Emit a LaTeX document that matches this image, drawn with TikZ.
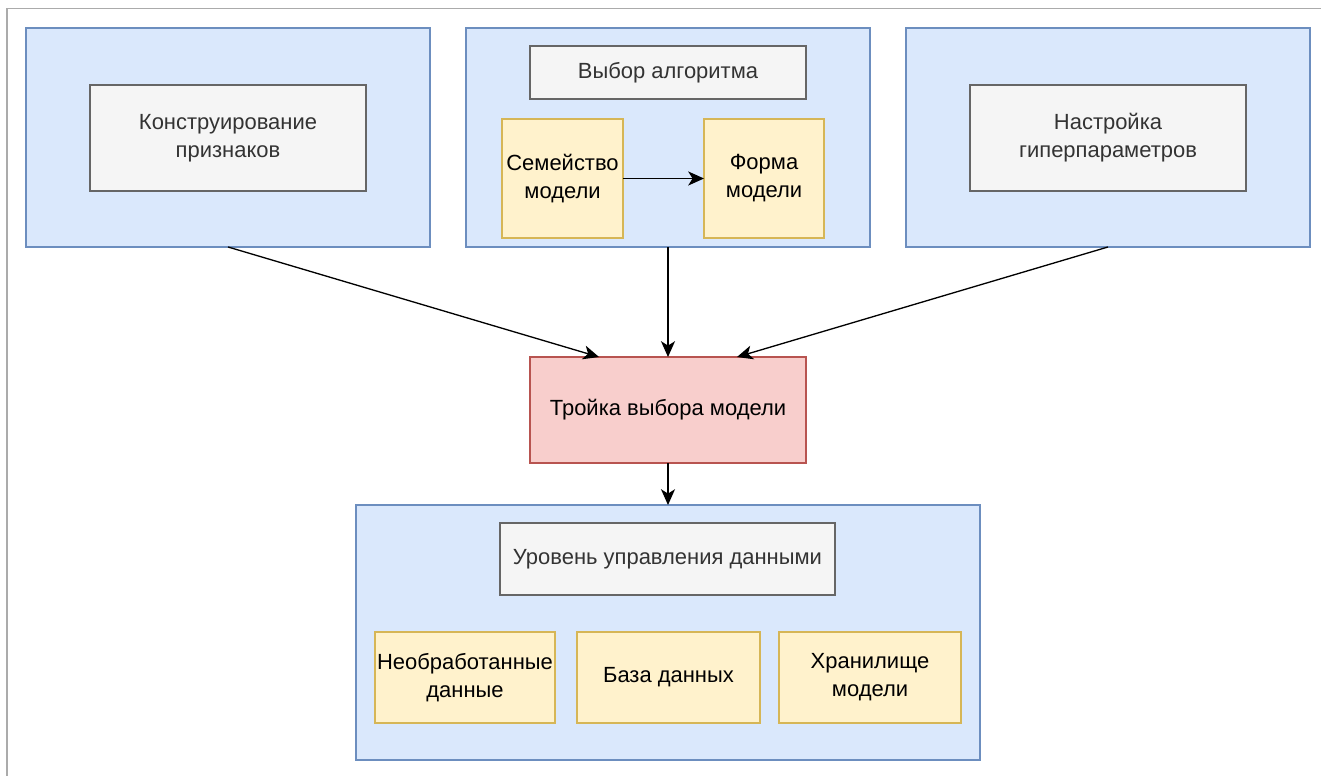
\documentclass[tikz,border=0pt]{standalone}
\usepackage{fontspec}
\setmainfont{Liberation Sans}
\usetikzlibrary{arrows.meta,calc}

\definecolor{bluefill}{HTML}{DAE8FC}
\definecolor{blueline}{HTML}{6C8EBF}
\definecolor{grayfill}{HTML}{F5F5F5}
\definecolor{grayline}{HTML}{666666}
\definecolor{graytext}{HTML}{333333}
\definecolor{yellowfill}{HTML}{FFF2CC}
\definecolor{yellowline}{HTML}{D6B656}
\definecolor{redfill}{HTML}{F8CECC}
\definecolor{redline}{HTML}{B85450}
\definecolor{framegray}{HTML}{ABABAB}

\tikzset{
  box/.style={rectangle, inner sep=0pt, outer sep=0pt, line width=0.7pt, align=center,
    font=\fontsize{12.5}{16}\selectfont},
  group/.style={box, draw=blueline, fill=bluefill},
  title/.style={box, draw=grayline, fill=grayfill, text=graytext},
  part/.style={box, draw=yellowline, fill=yellowfill},
  result/.style={box, draw=redline, fill=redfill},
  link/.style={black, line width=0.75pt, -{Stealth[length=9pt,width=8pt,inset=2.5pt]}}
}

\begin{document}
\begin{tikzpicture}[x=0.02cm,y=-0.02cm]
\useasboundingbox (0,0) rectangle (1321,776);
% Frame
\draw[framegray, line width=0.8pt] (1321,8.5) -- (7,8.5) -- (7,776);
% Top groups
\node[group, minimum width=8.08cm, minimum height=4.38cm] (featgroup) at (228,137.5) {};
\node[group, minimum width=8.08cm, minimum height=4.38cm] (algogroup) at (668,137.5) {};
\node[group, minimum width=8.08cm, minimum height=4.38cm] (hypergroup) at (1108,137.5) {};
\node[title, minimum width=5.52cm, minimum height=2.12cm] (feat) at (228,138) {Конструирование\\признаков};
\node[title, minimum width=5.52cm, minimum height=2.12cm] (hyper) at (1108,138) {Настройка\\гиперпараметров};
\node[title, minimum width=5.52cm, minimum height=1.06cm] (algo) at (668,72.5) {Выбор алгоритма};
\node[part, minimum width=2.42cm, minimum height=2.38cm] (family) at (562.5,178.5) {Семейство\\модели};
\node[part, minimum width=2.40cm, minimum height=2.38cm] (form) at (764,178.5) {Форма\\модели};
% Middle
\node[result, minimum width=5.52cm, minimum height=2.12cm] (triple) at (668,410) {Тройка выбора модели};
% Bottom group
\node[group, minimum width=12.48cm, minimum height=5.1cm] (datagroup) at (668,632.5) {};
\node[title, minimum width=6.7cm, minimum height=1.44cm] (datalevel) at (667.5,559) {Уровень управления данными};
\node[part, minimum width=3.6cm, minimum height=1.82cm] (raw) at (465,677.5) {Необработанные\\данные};
\node[part, minimum width=3.66cm, minimum height=1.82cm] (db) at (668.5,677.5) {База данных};
\node[part, minimum width=3.64cm, minimum height=1.82cm] (store) at (870,677.5) {Хранилище\\модели};
% Arrows
\draw[link, line width=1pt] (family) -- (form);
\draw[link] (featgroup.south) -- ($(triple.north west)!0.25!(triple.north east)$);
\draw[link] (algogroup.south) -- (triple.north);
\draw[link] (hypergroup.south) -- ($(triple.north west)!0.75!(triple.north east)$);
\draw[link] (triple.south) -- (datagroup.north);
\end{tikzpicture}
\end{document}
